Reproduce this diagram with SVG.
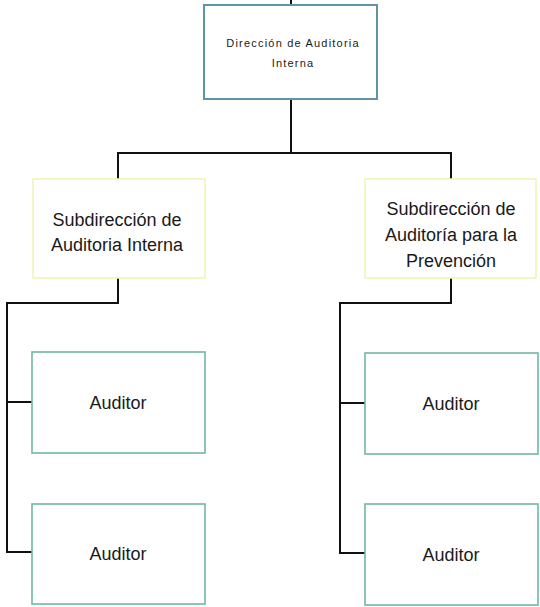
<svg xmlns="http://www.w3.org/2000/svg" width="540" height="607" viewBox="0 0 540 607">
<style>
.t{font-family:"Liberation Sans",Arial,sans-serif;fill:#1a1a1a;text-anchor:middle}
.top{fill:#fff;stroke:#5f93a8;stroke-width:2}
.sub{fill:#fff;stroke:#f1f5b0;stroke-width:1.5}
.aud{fill:#fff;stroke:#72b8a2;stroke-width:1.6}
.c{fill:none;stroke:#111;stroke-width:2}
</style>
<rect width="540" height="607" fill="#fff"/>
<g id="connectors">
<path class="c" d="M291 0V5"/>
<path class="c" d="M291 99V153H118V179M291 153H451V179"/>
<path class="c" d="M118 278V303H7V552H32M7 402H32"/>
<path class="c" d="M451 278V303H340V553H365M340 403H365"/>
</g>
<g id="n-direccion">
<rect class="top" x="204" y="5" width="173" height="94"/>
<text class="t" font-size="11" letter-spacing="1.2"><tspan x="293" y="47">Dirección de Auditoria</tspan><tspan x="293" y="67">Interna</tspan></text>
</g>
<g id="n-sub-interna">
<rect class="sub" x="33" y="179" width="172" height="99"/>
<text class="t" font-size="18"><tspan x="117" y="226">Subdirección de</tspan><tspan x="117" y="251">Auditoria Interna</tspan></text>
</g>
<g id="n-sub-prevencion">
<rect class="sub" x="365" y="179" width="171" height="99"/>
<text class="t" font-size="18"><tspan x="451" y="215">Subdirección de</tspan><tspan x="451" y="241">Auditoría para la</tspan><tspan x="451" y="267">Prevención</tspan></text>
</g>
<g id="n-aud-1">
<rect class="aud" x="32" y="352" width="173" height="101"/>
<text class="t" font-size="18" x="118" y="409">Auditor</text>
</g>
<g id="n-aud-2">
<rect class="aud" x="32" y="504" width="173" height="100"/>
<text class="t" font-size="18" x="118" y="560">Auditor</text>
</g>
<g id="n-aud-3">
<rect class="aud" x="365" y="353" width="173" height="101"/>
<text class="t" font-size="18" x="451" y="410">Auditor</text>
</g>
<g id="n-aud-4">
<rect class="aud" x="365" y="504" width="173" height="101"/>
<text class="t" font-size="18" x="451" y="561">Auditor</text>
</g>
</svg>
